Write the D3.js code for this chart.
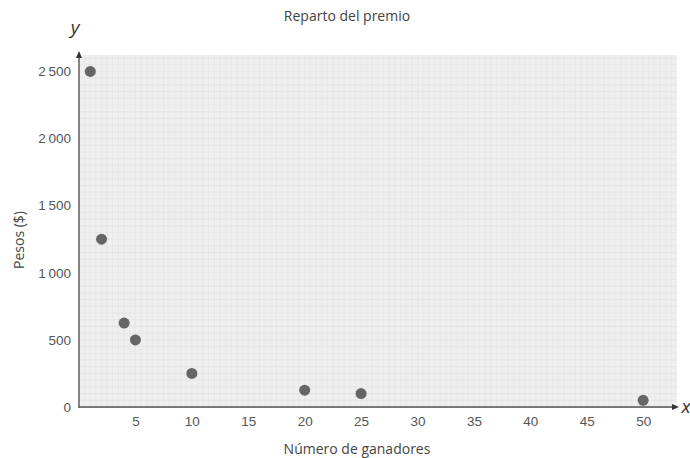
<!DOCTYPE html>
<html lang="es">
<head>
<meta charset="UTF-8">
<title>Reparto del premio</title>
<style>
    body { margin: 0; background: #fff; }
    svg { font-family: "Open Sans", "Noto Sans", sans-serif; }
    .tick text { fill: #555; font-size: 13.5px; }
</style>
</head>
<body>
<svg id="chart" width="690" height="458"></svg>
<script src="https://d3js.org/d3.v7.min.js"></script>
<script>
// datos
const ganadores = [1, 2, 4, 5, 10, 20, 25, 50];
const pesos = [2500, 1250, 625, 500, 250, 125, 100, 50];
const xTicks = [5, 10, 15, 20, 25, 30, 35, 40, 45, 50];
const yTicks = [0, 500, 1000, 1500, 2000, 2500];

const svg = d3.select("#chart");

const x = d3.scaleLinear().domain([0, 53]).range([79, 677]);
const y = d3.scaleLinear().domain([0, 2600]).range([407, 58]);

// fondo cuadriculado
svg.append("rect")
    .attr("x", x(0)).attr("y", 55)
    .attr("width", x(53) - x(0)).attr("height", y(0) - 55)
    .attr("fill", "#efefef");

const grid = svg.append("g").attr("stroke", "#e0e0e0").attr("stroke-width", 0.6);
grid.selectAll("line.v")
    .data(d3.range(0.5, 53, 0.5))
    .enter().append("line")
    .attr("x1", d => x(d)).attr("x2", d => x(d))
    .attr("y1", 55).attr("y2", y(0));
grid.selectAll("line.h")
    .data(d3.range(50, 2650, 50))
    .enter().append("line")
    .attr("x1", x(0)).attr("x2", x(53))
    .attr("y1", d => y(d)).attr("y2", d => y(d));

// ejes
const fmt = d => d >= 1000 ? d3.format(",")(d).replace(",", "\u2009") : String(d);

const xAxis = svg.append("g")
    .attr("transform", `translate(0,${y(0)})`)
    .call(d3.axisBottom(x).tickValues(xTicks).tickSize(0).tickPadding(9));
xAxis.select(".domain").remove();

const yAxis = svg.append("g")
    .attr("transform", `translate(${x(0)},0)`)
    .call(d3.axisLeft(y).tickValues(yTicks).tickSize(0).tickPadding(8).tickFormat(fmt));
yAxis.select(".domain").remove();

svg.append("line")
    .attr("x1", x(0)).attr("x2", 674)
    .attr("y1", y(0)).attr("y2", y(0))
    .attr("stroke", "#777").attr("stroke-width", 1.8);
svg.append("line")
    .attr("x1", x(0)).attr("x2", x(0))
    .attr("y1", y(0) + 1).attr("y2", 56)
    .attr("stroke", "#555").attr("stroke-width", 1.4);

// flechas
svg.append("path")
    .attr("d", `M${x(0) - 3},58 L${x(0)},51 L${x(0) + 3},58 Z`)
    .attr("fill", "#333");
svg.append("path")
    .attr("d", `M672,${y(0) - 3} L679,${y(0)} L672,${y(0) + 3} Z`)
    .attr("fill", "#333");

// puntos
svg.append("g").selectAll("circle")
    .data(ganadores)
    .enter().append("circle")
    .attr("cx", d => x(d))
    .attr("cy", (d, i) => y(pesos[i]))
    .attr("r", 5.5)
    .attr("fill", "#666");

// textos
svg.append("text")
    .attr("x", 347).attr("y", 21)
    .attr("text-anchor", "middle")
    .attr("fill", "#444").attr("font-size", 14)
    .text("Reparto del premio");

svg.append("text")
    .attr("x", 357).attr("y", 454)
    .attr("text-anchor", "middle")
    .attr("fill", "#444").attr("font-size", 14)
    .text("Número de ganadores");

svg.append("text")
    .attr("transform", "translate(24,240) rotate(-90)")
    .attr("text-anchor", "middle")
    .attr("fill", "#444").attr("font-size", 14)
    .text("Pesos ($)");

svg.append("text")
    .attr("x", 75).attr("y", 34)
    .attr("text-anchor", "middle")
    .attr("font-style", "italic")
    .attr("fill", "#333").attr("font-size", 19)
    .text("y");

svg.append("text")
    .attr("x", 686).attr("y", 413)
    .attr("text-anchor", "middle")
    .attr("font-style", "italic")
    .attr("fill", "#333").attr("font-size", 19)
    .text("x");
</script>
</body>
</html>
